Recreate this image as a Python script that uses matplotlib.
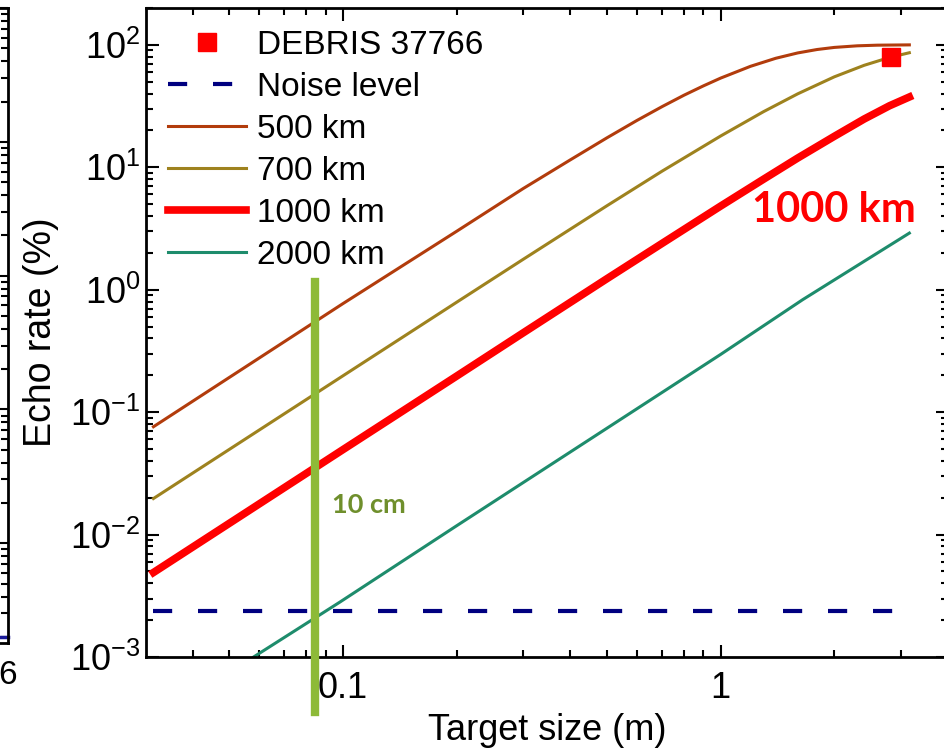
import numpy as np
import matplotlib
matplotlib.use('Agg')
from matplotlib import pyplot as plt
from matplotlib.ticker import FuncFormatter, LogLocator, FixedLocator

plt.rcParams['font.family'] = ['Liberation Sans Narrow', 'Liberation Sans', 'DejaVu Sans']
plt.rcParams['mathtext.default'] = 'regular'
plt.rcParams['axes.unicode_minus'] = False

# target size (m) / echo rate (%)
d500 = [0.0315, 0.1, 0.2, 0.3, 0.4, 0.5, 0.6, 0.7, 0.8, 0.9, 1.0, 1.2, 1.4, 1.6, 1.8, 2.0, 2.3, 2.6, 3.16]
r500 = [0.076, 0.77, 3.0, 6.7, 11.5, 17.4, 24.1, 31.3, 38.8, 46.2, 53.5, 66.8, 77.7, 85.9, 91.6, 95.3, 98.2, 99.4, 99.95]

d700 = [0.0315, 0.1, 0.2, 0.3, 0.5, 0.7, 1.0, 1.3, 1.6, 2.0, 2.4, 2.8, 3.16]
r700 = [0.0197, 0.198, 0.79, 1.77, 4.85, 9.3, 18.0, 28.5, 39.8, 54.8, 68.1, 78.9, 86.2]

d1000 = [0.0315, 0.1, 0.2, 0.3, 0.5, 0.7, 1.0, 1.3, 1.6, 2.0, 2.4, 2.8, 3.16]
r1000 = [0.0049, 0.0494, 0.197, 0.444, 1.23, 2.39, 4.82, 8.0, 11.9, 17.9, 24.8, 31.8, 37.5]

d2000 = [0.058, 0.098, 0.2, 0.61, 1.0, 1.65, 3.16]
r2000 = [0.001, 0.0028, 0.0118, 0.11, 0.296, 0.83, 2.9]

noise_d = [0.0315, 3.16]
noise_r = [0.00238, 0.00238]

debris_d = [2.83]
debris_r = [80.0]

cut_d = [0.0843, 0.0843]     # "10 cm" marker line
cut_r = [1.15, 3.55e-4]

# remnant of the neighbouring panel on the left
left_x = [0.0, 1.0]
left_y = [2.0e-5, 2.0e-5]

W, H = 944, 750
fig = plt.figure(figsize=(W/100, H/100), dpi=100)

# left panel (mostly cut off)
ax0 = fig.add_axes([-400/W, 1-643/H, 408/W, 635/H])
ax0.set_yscale('log')
ax0.set_ylim(1.8e-5, 1)
ax0.set_xlim(0, 1)
ax0.plot(left_x, left_y, c='#1a1a9a', lw=2.5, clip_on=False)
ax0.tick_params(which='both', direction='in', right=True, left=False, labelleft=False,
                bottom=False, labelbottom=False, width=1.5)
ax0.tick_params(which='major', length=8)
ax0.tick_params(which='minor', length=5)
ax0.yaxis.set_minor_locator(LogLocator(base=10, subs=np.arange(2, 10)))
for s in ax0.spines.values():
    s.set_linewidth(2)
fig.text(8/W, 1-676/H, '6', fontsize=24, ha='center', va='center')

ax = fig.add_axes([146/W, 1-657/H, 802/W, 649/H])
ax.set_xscale('log')
ax.set_yscale('log')
ax.set_xlim(0.0301, 4.0)
ax.set_ylim(1e-3, 200)

ax.plot(debris_d, debris_r, ls='none', marker='s', ms=13, c='#ff0000', zorder=6, label='DEBRIS 37766')
ax.plot(noise_d, noise_r, c='#000080', lw=3, ls=(0, (4.6, 6.2)), dash_capstyle='butt', zorder=4, label='Noise level')
ax.plot(d500, r500, c='#b23c0c', lw=2.2, label='500 km')
ax.plot(d700, r700, c='#9e821e', lw=2.2, label='700 km')
ax.plot(d1000, r1000, c='#ff0000', lw=5.5, label='1000 km')
ax.plot(d2000, r2000, c='#1e8c6c', lw=2.2, label='2000 km')

ax.plot(cut_d, cut_r, c='#8dba38', lw=6, clip_on=False, zorder=5)
ax.text(0.0935, 0.0149, '10 cm', color='#6f8f2c', fontsize=19.5, fontweight='bold',
        family=['Lato', 'DejaVu Sans'], ha='left', va='baseline')
ax.text(1.208, 3.6, '1000 km', color='#ff0000', fontsize=30, fontweight='bold',
        family=['Lato', 'DejaVu Sans'], ha='left', va='baseline')

leg = ax.legend(loc='upper left', bbox_to_anchor=(22/802, 1-22/649), frameon=False,
                borderpad=0, borderaxespad=0, handlelength=2.35, handletextpad=0.31,
                labelspacing=0.33, prop={'family': ['Liberation Sans', 'DejaVu Sans'], 'size': 24})

ax.xaxis.set_major_locator(FixedLocator([0.1, 1]))
ax.xaxis.set_minor_locator(LogLocator(base=10, subs=np.arange(2, 10)))
ax.xaxis.set_major_formatter(FuncFormatter(lambda v, p: '%g' % v))
ax.yaxis.set_major_locator(LogLocator(base=10, numticks=10))
ax.yaxis.set_minor_locator(LogLocator(base=10, subs=np.arange(2, 10), numticks=20))
ax.yaxis.set_major_formatter(FuncFormatter(lambda v, p: r'$\mathdefault{10^{%d}}$' % round(np.log10(v))))

ax.tick_params(which='both', direction='in', top=True, right=True, width=1.5, labelsize=26)
ax.tick_params(which='major', length=9)
ax.tick_params(which='minor', length=5)
ax.tick_params(axis='y', pad=4)
ax.tick_params(axis='x', pad=10)
for s in ax.spines.values():
    s.set_linewidth(2)

ax.set_xlabel('Target size (m)', fontsize=26, labelpad=5)
ax.set_ylabel('Echo rate (%)', fontsize=27, labelpad=8)

plt.savefig('out.png', dpi=100)
